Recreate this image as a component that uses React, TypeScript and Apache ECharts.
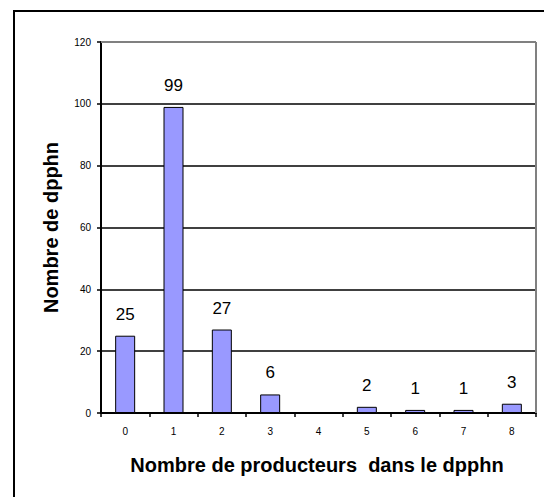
import React, { useEffect, useRef } from "react";
import * as echarts from "echarts";

const categories = ["0", "1", "2", "3", "4", "5", "6", "7", "8"];
const values = [25, 99, 27, 6, 0, 2, 1, 1, 3];
const yTitle = "Nombre de dpphn";
const xTitle = "Nombre de producteurs  dans le dpphn";

const FONT = "'Liberation Sans', Arial, sans-serif";

export default function App() {
  const ref = useRef<HTMLDivElement>(null);
  useEffect(() => {
    document.body.style.margin = "0";
    const chart = echarts.init(ref.current!, null, { renderer: "svg" });
    const gl = 101, gr = 8, gt = 42, gb = 84;
    const W = 544, H = 497;
    chart.setOption({
      animation: false,
      backgroundColor: "#ffffff",
      grid: { left: gl, right: gr, top: gt, bottom: gb, containLabel: false },
      xAxis: {
        type: "category",
        data: categories,
        axisLine: { lineStyle: { color: "#000", width: 2 } },
        axisTick: { show: true, length: 4, lineStyle: { color: "#000", width: 1.5 } },
        axisLabel: { color: "#000", fontFamily: FONT, fontSize: 10, margin: 13 },
      },
      yAxis: {
        type: "value",
        min: 0,
        max: 120,
        interval: 20,
        name: yTitle,
        nameLocation: "middle",
        nameGap: 40,
        nameTextStyle: { color: "#000", fontFamily: FONT, fontSize: 20, fontWeight: "bold" },
        axisLine: { show: true, lineStyle: { color: "#000", width: 2 } },
        axisTick: { show: true, length: 4, lineStyle: { color: "#000", width: 1.5 } },
        axisLabel: { color: "#000", fontFamily: FONT, fontSize: 10, margin: 10 },
        splitLine: { show: true, lineStyle: { color: "#000", width: 1.5 } },
      },
      series: [
        {
          type: "bar",
          data: values,
          barWidth: 20,
          itemStyle: { color: "#9999FF", borderColor: "#000", borderWidth: 1 },
          label: {
            show: true,
            position: "top",
            distance: 13,
            color: "#000",
            fontFamily: FONT,
            fontSize: 17,
            formatter: (p: any) => (p.value === 0 ? "" : String(p.value)),
          },
        },
      ],
      graphic: [
        {
          type: "line",
          shape: { x1: gl, y1: gt, x2: W - gr, y2: gt },
          style: { stroke: "#808080", lineWidth: 2 },
          z: 10,
        },
        {
          type: "line",
          shape: { x1: W - gr, y1: gt, x2: W - gr, y2: H - gb },
          style: { stroke: "#808080", lineWidth: 2 },
          z: 10,
        },
        {
          type: "rect",
          shape: { x: 14, y: 11, width: 600, height: 600 },
          style: { fill: "none", stroke: "#000", lineWidth: 2 },
          z: 10,
        },
        {
          type: "text",
          x: 317,
          y: 465,
          style: {
            text: xTitle,
            fontFamily: FONT,
            fontSize: 20,
            fontWeight: "bold",
            fill: "#000",
            align: "center",
            verticalAlign: "middle",
          },
        },
      ],
    });
    return () => chart.dispose();
  }, []);
  return <div ref={ref} style={{ width: 544, height: 497 }} />;
}
